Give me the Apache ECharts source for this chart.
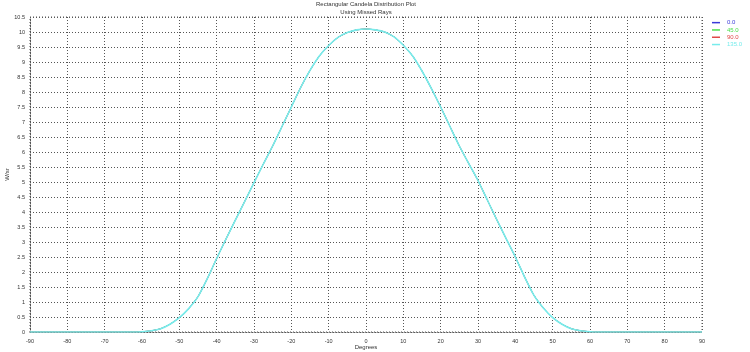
<!DOCTYPE html>
<html>
<head>
<meta charset="utf-8">
<script src="https://cdn.jsdelivr.net/npm/echarts@6/dist/echarts.min.js"></script>
<style>
  html, body { margin: 0; padding: 0; background: #fff; }
  #chart { width: 750px; height: 352px; }
</style>
</head>
<body>
<div id="chart"></div>
<script>
// angles (degrees) and candela values
const degrees = [-90, -87.5, -85, -82.5, -80, -77.5, -75, -72.5, -70, -67.5, -65, -62.5,
  -60, -57.5, -55, -52.5, -50, -47.5, -45, -42.5, -40, -37.5, -35, -32.5, -30, -27.5,
  -25, -22.5, -20, -17.5, -15, -12.5, -10, -7.5, -5, -2.5, 0, 2.5, 5, 7.5, 10, 12.5,
  15, 17.5, 20, 22.5, 25, 27.5, 30, 32.5, 35, 37.5, 40, 42.5, 45, 47.5, 50, 52.5, 55,
  57.5, 60, 62.5, 65, 67.5, 70, 72.5, 75, 77.5, 80, 82.5, 85, 87.5, 90]
const wsr = [0, 0, 0, 0, 0, 0, 0, 0, 0, 0, 0, 0,
  0.01, 0.04, 0.11, 0.26, 0.48, 0.78, 1.18, 1.78, 2.45, 3.1, 3.73, 4.35, 4.98, 5.6,
  6.2, 6.85, 7.5, 8.15, 8.72, 9.2, 9.55, 9.82, 9.98, 10.07, 10.1, 10.07, 10.0, 9.84, 9.56, 9.2,
  8.7, 8.12, 7.5, 6.85, 6.2, 5.62, 5.05, 4.4, 3.75, 3.12, 2.5, 1.83, 1.22, 0.8, 0.48, 0.26, 0.11,
  0.04, 0.01, 0, 0, 0, 0, 0, 0, 0, 0, 0, 0, 0, 0]

const seriesNames = ['0.0', '45.0', '90.0', '135.0']
const seriesColors = ['#3a3ad8', '#4be04b', '#e04848', '#78ecec']

const xTicks = { min: -90, max: 90, step: 10 }
const yTicks = { min: 0, max: 10.5, step: 0.5 }

let myChart = echarts.init(document.getElementById('chart'))

const dotted = { type: [1, 2], color: '#555', width: 1 }
const font = 'Liberation Sans'

myChart.setOption({
  animation: false,
  title: {
    text: 'Rectangular Candela Distribution Plot',
    subtext: 'Using Missed Rays',
    left: 366,
    textAlign: 'center',
    top: 1,
    padding: 0,
    itemGap: 1,
    textStyle: { fontFamily: font, fontSize: 6, lineHeight: 7, fontWeight: 'normal', color: '#333' },
    subtextStyle: { fontFamily: font, fontSize: 6, lineHeight: 7, color: '#333' }
  },
  legend: {
    orient: 'vertical',
    left: 712,
    top: 19,
    padding: 0,
    itemWidth: 8,
    itemHeight: 1.5,
    itemGap: 0,
    icon: 'rect',
    data: seriesNames.map((n, i) => ({
      name: n,
      textStyle: { color: seriesColors[i] }
    })),
    textStyle: { fontFamily: font, fontSize: 6, lineHeight: 7.3, padding: [0, 0, 0, 2] }
  },
  grid: {
    left: 30,
    right: 48,
    top: 17,
    bottom: 20,
    outerBoundsMode: 'none',
    containLabel: false
  },
  xAxis: {
    type: 'value',
    min: xTicks.min,
    max: xTicks.max,
    interval: xTicks.step,
    name: 'Degrees',
    nameLocation: 'middle',
    nameGap: 12,
    nameMoveOverlap: false,
    nameTextStyle: { fontFamily: font, fontSize: 6, color: '#333' },
    axisLine: { onZero: false, lineStyle: dotted },
    axisTick: { show: false },
    axisLabel: { fontFamily: font, fontSize: 5.5, color: '#333', margin: 6 },
    splitLine: { show: true, lineStyle: dotted }
  },
  yAxis: {
    type: 'value',
    min: yTicks.min,
    max: yTicks.max,
    interval: yTicks.step,
    name: 'W/sr',
    nameLocation: 'middle',
    nameGap: 20,
    nameMoveOverlap: false,
    nameTextStyle: { fontFamily: font, fontSize: 6, color: '#333' },
    axisLine: { onZero: false, lineStyle: dotted },
    axisTick: { show: false },
    axisLabel: { fontFamily: font, fontSize: 5.5, color: '#333', margin: 5 },
    splitLine: { show: true, lineStyle: dotted }
  },
  series: seriesNames.map((n, i) => ({
    name: n,
    type: 'line',
    data: degrees.map((d, k) => [d, wsr[k]]),
    smooth: 0.2,
    showSymbol: false,
    color: seriesColors[i],
    lineStyle: { width: i === 3 ? 1.6 : 0.8, color: seriesColors[i] },
    z: 2 + i
  })),
  graphic: [
    // dotted frame along top and right of plot area
    {
      type: 'rect',
      shape: { x: 30, y: 17, width: 672, height: 315 },
      style: { fill: 'none', stroke: '#555', lineWidth: 1, lineDash: [1, 2] },
      silent: true
    }
  ]
})
</script>
</body>
</html>
